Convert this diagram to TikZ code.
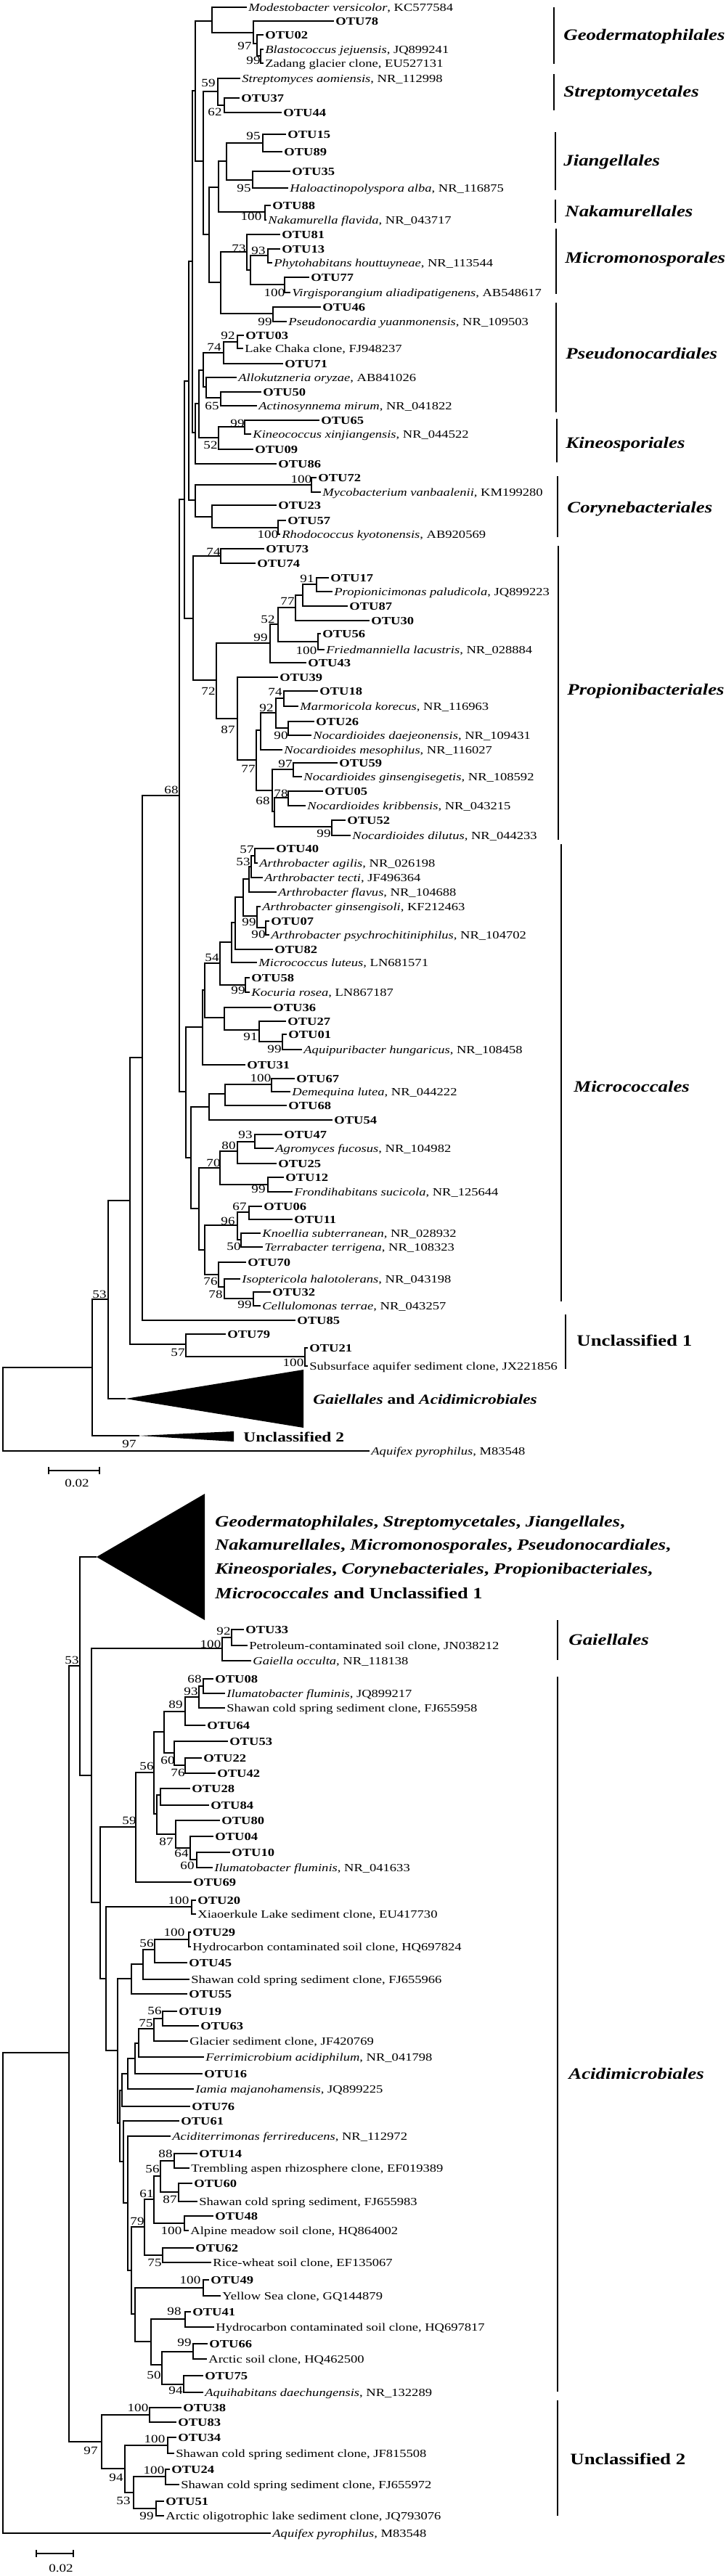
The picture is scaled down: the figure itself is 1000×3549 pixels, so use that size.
\documentclass[tikz,border=0pt]{standalone}
\usepackage{fontspec}
\setmainfont{Liberation Serif}[FakeStretch=1.22]
\newcommand\mkotu[4]{\node[lf] (#1) at (#2,#3) {\textbf{OTU#4}};}
\newcommand\mkleaf[4]{\node[lf] (#1) at (#2,#3) {#4};}
\newcommand\mknd[3]{\coordinate (#1) at (#2,#3);}
\newcommand\mked[2]{\foreach \cc in {#2}{\draw[br] (#1) |- (\cc);}}
\newcommand\mkbv[3]{\node[bsv] at (#1,#2) {#3};}
\begin{document}
\begin{tikzpicture}[x=0.5pt,y=-0.5pt,
  br/.style={line width=0.65pt},
  lf/.style={anchor=west,xshift=-1pt,inner xsep=1pt,inner ysep=0pt,text height=5pt,text depth=0pt,font=\fontsize{7.6}{8}\selectfont},
  bsv/.style={inner sep=0pt,font=\fontsize{7.8}{8}\selectfont},
  ordline/.style={line width=0.7pt},
  ordlab/.style={anchor=west,inner sep=0pt,font=\fontsize{11}{12}\selectfont\bfseries\itshape},
  unclab/.style={anchor=west,inner sep=0pt,font=\fontsize{11}{12}\selectfont\bfseries},
  tlab/.style={anchor=west,inner sep=0pt,font=\fontsize{9.6}{10}\selectfont\bfseries},
  biglab/.style={anchor=west,inner sep=0pt,font=\fontsize{10.8}{12}\selectfont\bfseries}]
\fill[white] (0,0) rectangle (1000,3549);
\useasboundingbox (0,0) rectangle (1000,3549);
% ================= TOP TREE: leaves =================
\mkleaf{m1}{342}{10}{\textit{Modestobacter versicolor}, KC577584}
\mkotu{o78}{462}{29}{78}
\mkotu{o02}{365}{48}{02}
\mkleaf{blj}{365}{68}{\textit{Blastococcus jejuensis}, JQ899241}
\mkleaf{zad}{365}{87}{Zadang glacier clone, EU527131}
\mkleaf{str}{333}{108}{\textit{Streptomyces aomiensis}, NR\_112998}
\mkotu{o37}{332}{135}{37}
\mkotu{o44}{390}{155}{44}
\mkotu{o15}{396}{185}{15}
\mkotu{o89}{391}{209}{89}
\mkotu{o35}{402}{236}{35}
\mkleaf{hal}{399}{259}{\textit{Haloactinopolyspora alba}, NR\_116875}
\mkotu{o88}{375}{283}{88}
\mkleaf{nak}{369}{303}{\textit{Nakamurella flavida}, NR\_043717}
\mkotu{o81}{388}{323}{81}
\mkotu{o13}{388}{343}{13}
\mkleaf{phy}{377}{362}{\textit{Phytohabitans houttuyneae}, NR\_113544}
\mkotu{o77}{428}{382}{77}
\mkleaf{vir}{402}{403}{\textit{Virgisporangium aliadipatigenens}, AB548617}
\mkotu{o46}{444}{423}{46}
\mkleaf{pse}{397}{443}{\textit{Pseudonocardia yuanmonensis}, NR\_109503}
\mkotu{o03}{338}{462}{03}
\mkleaf{lch}{337}{480}{Lake Chaka clone, FJ948237}
\mkotu{o71}{392}{501}{71}
\mkleaf{all}{328}{520}{\textit{Allokutzneria oryzae}, AB841026}
\mkotu{o50}{362}{540}{50}
\mkleaf{act}{356}{559}{\textit{Actinosynnema mirum}, NR\_041822}
\mkotu{o65}{442}{579}{65}
\mkleaf{kin}{348}{598}{\textit{Kineococcus xinjiangensis}, NR\_044522}
\mkotu{o09}{351}{619}{09}
\mkotu{o86}{383}{639}{86}
\mkotu{o72}{438}{658}{72}
\mkleaf{myc}{444}{678}{\textit{Mycobacterium vanbaalenii}, KM199280}
\mkotu{o23}{383}{696}{23}
\mkotu{o57}{396}{717}{57}
\mkleaf{rho}{388}{736}{\textit{Rhodococcus kyotonensis}, AB920569}
\mkotu{o73}{366}{756}{73}
\mkotu{o74}{354}{776}{74}
\mkotu{o17}{455}{796}{17}
\mkleaf{ppa}{460}{815}{\textit{Propionicimonas paludicola}, JQ899223}
\mkotu{o87}{481}{835}{87}
\mkotu{o30}{511}{855}{30}
\mkotu{o56}{444}{873}{56}
\mkleaf{fri}{449}{895}{\textit{Friedmanniella lacustris}, NR\_028884}
\mkotu{o43}{424}{913}{43}
\mkotu{o39}{385}{933}{39}
\mkotu{o18}{440}{952}{18}
\mkleaf{mar}{413}{973}{\textit{Marmoricola korecus}, NR\_116963}
\mkotu{o26}{435}{994}{26}
\mkleaf{nda}{431}{1013}{\textit{Nocardioides daejeonensis}, NR\_109431}
\mkleaf{nme}{391}{1033}{\textit{Nocardioides mesophilus}, NR\_116027}
\mkotu{o59}{467}{1051}{59}
\mkleaf{ngi}{418}{1070}{\textit{Nocardioides ginsengisegetis}, NR\_108592}
\mkotu{o05}{447}{1090}{05}
\mkleaf{nkr}{423}{1110}{\textit{Nocardioides kribbensis}, NR\_043215}
\mkotu{o52}{478}{1130}{52}
\mkleaf{ndi}{485}{1151}{\textit{Nocardioides dilutus}, NR\_044233}
\mkotu{o40}{380}{1169}{40}
\mkleaf{aag}{357}{1189}{\textit{Arthrobacter agilis}, NR\_026198}
\mkleaf{ate}{364}{1209}{\textit{Arthrobacter tecti}, JF496364}
\mkleaf{afl}{383}{1229}{\textit{Arthrobacter flavus}, NR\_104688}
\mkleaf{agi}{361}{1249}{\textit{Arthrobacter ginsengisoli}, KF212463}
\mkotu{o07}{373}{1269}{07}
\mkleaf{aps}{373}{1288}{\textit{Arthrobacter psychrochitiniphilus}, NR\_104702}
\mkotu{o82}{378}{1308}{82}
\mkleaf{mlu}{356}{1326}{\textit{Micrococcus luteus}, LN681571}
\mkotu{o58}{346}{1347}{58}
\mkleaf{kro}{346}{1367}{\textit{Kocuria rosea}, LN867187}
\mkotu{o36}{376}{1388}{36}
\mkotu{o27}{396}{1407}{27}
\mkotu{o01}{397}{1425}{01}
\mkleaf{aqh}{418}{1446}{\textit{Aquipuribacter hungaricus}, NR\_108458}
\mkotu{o31}{340}{1467}{31}
\mkotu{o67}{408}{1486}{67}
\mkleaf{dem}{402}{1504}{\textit{Demequina lutea}, NR\_044222}
\mkotu{o68}{397}{1523}{68}
\mkotu{o54}{460}{1543}{54}
\mkotu{o47}{391}{1563}{47}
\mkleaf{agr}{379}{1582}{\textit{Agromyces fucosus}, NR\_104982}
\mkotu{o25}{383}{1603}{25}
\mkotu{o12}{393}{1622}{12}
\mkleaf{fro}{405}{1642}{\textit{Frondihabitans sucicola}, NR\_125644}
\mkotu{o06}{363}{1662}{06}
\mkotu{o11}{405}{1680}{11}
\mkleaf{kno}{361}{1699}{\textit{Knoellia subterranean}, NR\_028932}
\mkleaf{ter}{364}{1718}{\textit{Terrabacter terrigena}, NR\_108323}
\mkotu{o70}{341}{1739}{70}
\mkleaf{iso}{333}{1762}{\textit{Isoptericola halotolerans}, NR\_043198}
\mkotu{o32}{375}{1780}{32}
\mkleaf{cel}{361}{1799}{\textit{Cellulomonas terrae}, NR\_043257}
\mkotu{o85}{409}{1819}{85}
\mkotu{o79}{313}{1838}{79}
\mkotu{o21}{426}{1857}{21}
\mkleaf{sub}{426}{1882}{Subsurface aquifer sediment clone, JX221856}
\mkleaf{aqf}{511}{1999}{\textit{Aquifex pyrophilus}, M83548}
% ================= TOP TREE: internal nodes =================
\mknd{G1}{292}{29}\mknd{G2}{349}{45}\mknd{n97}{354}{60}\mknd{n99}{359}{77}
\mknd{N269}{269}{125}\mknd{N280}{280}{222}\mknd{S}{300}{126}\mknd{N62}{309}{145}
\mknd{N288}{288}{323}\mknd{N301}{301}{258}\mknd{J}{312}{222}\mknd{N95a}{362}{197}
\mknd{N95b}{348}{248}\mknd{Nak}{365}{292}\mknd{N304}{304}{389}\mknd{N340}{340}{347}
\mknd{N345}{345}{372}\mknd{N369}{369}{352}\mknd{N392}{392}{392}\mknd{N376}{376}{432}
\mknd{N265}{265}{360}\mknd{N269a}{269}{596}\mknd{N274}{274}{556}\mknd{N280b}{280}{510}
\mknd{N308}{308}{486}\mknd{N327}{327}{471}\mknd{N284}{284}{533}\mknd{N304b}{304}{548}
\mknd{N301k}{301}{603}\mknd{N337}{337}{588}\mknd{N260}{260}{525}\mknd{N269c}{269}{689}
\mknd{N429}{429}{668}\mknd{N292}{292}{712}\mknd{N383c}{383}{727}\mknd{N254}{254}{688}
\mknd{N266}{266}{852}\mknd{N304p}{304}{766}\mknd{N298}{298}{937}\mknd{N372}{372}{886}
\mknd{N383p}{383}{860}\mknd{N407}{407}{837}\mknd{N417}{417}{820}\mknd{N436}{436}{805}
\mknd{N438}{438}{884}\mknd{N327p}{327}{990}\mknd{N353}{353}{1047}\mknd{N359}{359}{1006}
\mknd{N380}{380}{982}\mknd{N391}{391}{962}\mknd{N397}{397}{1003}\mknd{N375}{375}{1089}
\mknd{N404}{404}{1060}\mknd{N378}{378}{1118}\mknd{N397b}{397}{1099}\mknd{N457}{457}{1139}
\mknd{F}{247}{1096}\mknd{M256}{256}{1504}\mknd{M280}{279}{1415}\mknd{M282}{282}{1364}
\mknd{M303}{303}{1327}\mknd{M338}{338}{1357}\mknd{M319}{319}{1298}\mknd{M324}{324}{1271}
\mknd{M335}{335}{1236}\mknd{M343}{343}{1211}\mknd{M346}{346}{1194}\mknd{M351}{351}{1179}
\mknd{M354}{354}{1262}\mknd{M366}{366}{1278}\mknd{M309}{309}{1402}\mknd{M357}{357}{1419}
\mknd{M389}{389}{1435}\mknd{M263}{263}{1595}\mknd{M288}{288}{1525}\mknd{M310}{310}{1507}
\mknd{M374}{374}{1494}\mknd{M274}{274}{1665}\mknd{M303b}{303}{1609}\mknd{M327}{327}{1586}
\mknd{M351b}{351}{1573}\mknd{M369}{369}{1632}\mknd{M282b}{282}{1722}\mknd{M327k}{327}{1688}
\mknd{M343k}{343}{1670}\mknd{M332}{332}{1708}\mknd{M301}{301}{1756}\mknd{M309b}{309}{1773}
\mknd{M349}{349}{1789}\mknd{D}{196}{1457}\mknd{C}{179}{1654}\mknd{E}{256}{1852}
\mknd{N420}{420}{1869}\mknd{B}{149}{1790}\mknd{A}{127}{1884}\mknd{R}{4}{1940}
\mknd{t1a}{173}{1927}\mknd{t1b}{418}{1887}\mknd{t1c}{418}{1967}
\mknd{t2a}{192}{1978}\mknd{t2b}{322}{1972}\mknd{t2c}{322}{1986}
% ================= TOP TREE: edges =================
\mked{G1}{m1,G2}\mked{G2}{o78,n97}\mked{n97}{o02,n99}\mked{n99}{blj,zad}
\mked{N269}{G1,N280}\mked{N280}{S,N288}\mked{S}{str,N62}\mked{N62}{o37,o44}
\mked{N288}{N301,N304}\mked{N301}{J,Nak}\mked{J}{N95a,N95b}\mked{N95a}{o15,o89}
\mked{N95b}{o35,hal}\mked{Nak}{o88,nak}\mked{N304}{N340,N376}\mked{N340}{o81,N345}
\mked{N345}{N369,N392}\mked{N369}{o13,phy}\mked{N392}{o77,vir}\mked{N376}{o46,pse}
\mked{N265}{N269,N269a}\mked{N269a}{N274,o86}\mked{N274}{N280b,N301k}\mked{N280b}{N308,N284}
\mked{N308}{N327,o71}\mked{N327}{o03,lch}\mked{N284}{all,N304b}\mked{N304b}{o50,act}
\mked{N301k}{N337,o09}\mked{N337}{o65,kin}\mked{N260}{N265,N269c}\mked{N269c}{N429,N292}
\mked{N429}{o72,myc}\mked{N292}{o23,N383c}\mked{N383c}{o57,rho}\mked{N254}{N260,N266}
\mked{N266}{N304p,N298}\mked{N304p}{o73,o74}\mked{N298}{N372,N327p}\mked{N372}{N383p,o43}
\mked{N383p}{N407,N438}\mked{N407}{N417,o30}\mked{N417}{N436,o87}\mked{N436}{o17,ppa}
\mked{N438}{o56,fri}\mked{N327p}{o39,N353}\mked{N353}{N359,N375}\mked{N359}{N380,nme}
\mked{N380}{N391,N397}\mked{N391}{o18,mar}\mked{N397}{o26,nda}\mked{N375}{N404,N378}
\mked{N404}{o59,ngi}\mked{N378}{N397b,N457}\mked{N397b}{o05,nkr}\mked{N457}{o52,ndi}
\mked{F}{N254,M256}\mked{M256}{M280,M263}\mked{M280}{M282,o31}\mked{M282}{M303,M309}
\mked{M303}{M319,M338}\mked{M338}{o58,kro}\mked{M319}{M324,mlu}\mked{M324}{M335,o82}
\mked{M335}{M343,M354}\mked{M343}{M346,afl}\mked{M346}{M351,ate}\mked{M351}{o40,aag}
\mked{M354}{agi,M366}\mked{M366}{o07,aps}\mked{M309}{o36,M357}\mked{M357}{o27,M389}
\mked{M389}{o01,aqh}\mked{M263}{M288,M274}\mked{M288}{M310,o54}\mked{M310}{M374,o68}
\mked{M374}{o67,dem}\mked{M274}{M303b,M282b}\mked{M303b}{M327,M369}\mked{M327}{M351b,o25}
\mked{M351b}{o47,agr}\mked{M369}{o12,fro}\mked{M282b}{M327k,M301}\mked{M327k}{M343k,M332}
\mked{M343k}{o06,o11}\mked{M332}{kno,ter}\mked{M301}{o70,M309b}\mked{M309b}{iso,M349}
\mked{M349}{o32,cel}\mked{D}{F,o85}\mked{C}{D,E}\mked{E}{o79,N420}\mked{N420}{o21,sub}
\mked{B}{C,t1a}\mked{A}{B,t2a}\mked{R}{A,aqf}
\fill (t1a) -- (t1b) -- (t1c) -- cycle;
\fill (t2a) -- (t2b) -- (t2c) -- cycle;
\node[tlab] (tl1) at (431,1928) {\textit{Gaiellales} and \textit{Acidimicrobiales}};
\node[tlab] (tl2) at (335,1980) {Unclassified 2};
% bootstrap values top
\mkbv{337}{63}{97}\mkbv{349}{83}{99}\mkbv{287}{114}{59}\mkbv{296}{154}{62}
\mkbv{349}{187}{95}\mkbv{336}{259}{95}\mkbv{346}{298}{100}\mkbv{329}{342}{73}
\mkbv{356}{345}{93}\mkbv{378}{403}{100}\mkbv{365}{443}{99}\mkbv{314}{462}{92}
\mkbv{295}{478}{74}\mkbv{292}{559}{65}\mkbv{327}{583}{99}\mkbv{290}{613}{52}
\mkbv{415}{660}{100}\mkbv{369}{736}{100}\mkbv{294}{760}{74}\mkbv{423}{797}{91}
\mkbv{396}{828}{77}\mkbv{369}{853}{52}\mkbv{359}{878}{99}\mkbv{422}{896}{100}
\mkbv{287}{952}{72}\mkbv{379}{953}{74}\mkbv{367}{975}{92}\mkbv{314}{1005}{87}
\mkbv{387}{1013}{90}\mkbv{393}{1052}{97}\mkbv{342}{1059}{77}\mkbv{236}{1088}{68}
\mkbv{387}{1093}{78}\mkbv{362}{1103}{68}\mkbv{446}{1148}{99}\mkbv{340}{1170}{57}
\mkbv{335}{1187}{53}\mkbv{343}{1270}{99}\mkbv{356}{1287}{90}\mkbv{292}{1319}{54}
\mkbv{328}{1364}{99}\mkbv{345}{1428}{91}\mkbv{378}{1445}{99}\mkbv{359}{1485}{100}
\mkbv{338}{1563}{93}\mkbv{315}{1578}{80}\mkbv{294}{1602}{70}\mkbv{356}{1638}{99}
\mkbv{330}{1662}{67}\mkbv{314}{1682}{96}\mkbv{322}{1717}{50}\mkbv{290}{1765}{76}
\mkbv{297}{1783}{78}\mkbv{337}{1797}{99}\mkbv{137}{1783}{53}\mkbv{245}{1863}{57}
\mkbv{404}{1877}{100}\mkbv{178}{1989}{97}
% order brackets top
\draw[ordline] (763,10) -- (763,88);   \node[ordlab] at (776,50) {Geodermatophilales};
\draw[ordline] (763,102) -- (763,152); \node[ordlab] at (776,128) {Streptomycetales};
\draw[ordline] (765,182) -- (765,262); \node[ordlab] at (776,223) {Jiangellales};
\draw[ordline] (765,275) -- (765,307); \node[ordlab] at (778,291) {Nakamurellales};
\draw[ordline] (766,315) -- (766,405); \node[ordlab] at (778,357) {Micromonosporales};
\draw[ordline] (766,417) -- (766,568); \node[ordlab] at (779,487) {Pseudonocardiales};
\draw[ordline] (767,577) -- (767,637); \node[ordlab] at (779,612) {Kineosporiales};
\draw[ordline] (768,656) -- (768,740); \node[ordlab] at (781,701) {Corynebacteriales};
\draw[ordline] (769,752) -- (769,1157); \node[ordlab] at (781,952) {Propionibacteriales};
\draw[ordline] (773,1163) -- (773,1793); \node[ordlab] at (790,1497) {Micrococcales};
\draw[ordline] (779,1811) -- (779,1886); \node[unclab] at (794,1847) {Unclassified 1};
% scale bar top
\draw[br] (67,2026) -- (137,2026); \draw[br] (67,2021) -- (67,2031); \draw[br] (137,2021) -- (137,2031);
\node[bsv] at (106,2043) {0.02};
% ================= LOWER TREE: leaves =================
\mkotu{o33}{338}{2245}{33}
\mkleaf{pet}{343}{2267}{Petroleum-contaminated soil clone, JN038212}
\mkleaf{gai}{348}{2288}{\textit{Gaiella occulta}, NR\_118138}
\mkotu{o08}{296}{2313}{08}
\mkleaf{ilj}{312}{2333}{\textit{Ilumatobacter fluminis}, JQ899217}
\mkleaf{s58}{312}{2353}{Shawan cold spring sediment clone, FJ655958}
\mkotu{o64}{285}{2377}{64}
\mkotu{o53}{316}{2399}{53}
\mkotu{o22}{280}{2422}{22}
\mkotu{o42}{299}{2443}{42}
\mkotu{o28}{264}{2464}{28}
\mkotu{o84}{290}{2487}{84}
\mkotu{o80}{305}{2508}{80}
\mkotu{o04}{296}{2530}{04}
\mkotu{o10}{319}{2552}{10}
\mkleaf{iln}{295}{2573}{\textit{Ilumatobacter fluminis}, NR\_041633}
\mkotu{o69}{266}{2593}{69}
\mkotu{o20}{272}{2618}{20}
\mkleaf{xia}{272}{2637}{Xiaoerkule Lake sediment clone, EU417730}
\mkotu{o29}{265}{2662}{29}
\mkleaf{hy4}{265}{2682}{Hydrocarbon contaminated soil clone, HQ697824}
\mkotu{o45}{260}{2704}{45}
\mkleaf{s66}{263}{2727}{Shawan cold spring sediment clone, FJ655966}
\mkotu{o55}{260}{2747}{55}
\mkotu{o19}{246}{2771}{19}
\mkotu{o63}{276}{2791}{63}
\mkleaf{gla}{261}{2812}{Glacier sediment clone, JF420769}
\mkleaf{fer}{283}{2834}{\textit{Ferrimicrobium acidiphilum}, NR\_041798}
\mkotu{o16}{281}{2857}{16}
\mkleaf{iam}{269}{2878}{\textit{Iamia majanohamensis}, JQ899225}
\mkotu{o76}{264}{2902}{76}
\mkotu{o61}{249}{2922}{61}
\mkleaf{acd}{237}{2943}{\textit{Aciditerrimonas ferrireducens}, NR\_112972}
\mkotu{o14}{274}{2967}{14}
\mkleaf{tre}{263}{2987}{Trembling aspen rhizosphere clone, EF019389}
\mkotu{o60}{267}{3008}{60}
\mkleaf{s83}{274}{3033}{Shawan cold spring sediment, FJ655983}
\mkotu{o48}{296}{3053}{48}
\mkleaf{alp}{262}{3073}{Alpine meadow soil clone, HQ864002}
\mkotu{o62}{269}{3097}{62}
\mkleaf{ric}{293}{3117}{Rice-wheat soil clone, EF135067}
\mkotu{o49}{290}{3141}{49}
\mkleaf{yel}{306}{3163}{Yellow Sea clone, GQ144879}
\mkotu{o41}{265}{3185}{41}
\mkleaf{hy7}{297}{3206}{Hydrocarbon contaminated soil clone, HQ697817}
\mkotu{o66}{288}{3229}{66}
\mkleaf{arc}{287}{3250}{Arctic soil clone, HQ462500}
\mkotu{o75}{282}{3273}{75}
\mkleaf{aqd}{282}{3296}{\textit{Aquihabitans daechungensis}, NR\_132289}
\mkotu{o38}{252}{3317}{38}
\mkotu{o83}{245}{3337}{83}
\mkotu{o34}{245}{3358}{34}
\mkleaf{s08}{242}{3380}{Shawan cold spring sediment clone, JF815508}
\mkotu{o24}{236}{3402}{24}
\mkleaf{s72}{249}{3423}{Shawan cold spring sediment clone, FJ655972}
\mkotu{o51}{228}{3446}{51}
\mkleaf{aol}{228}{3466}{Arctic oligotrophic lake sediment clone, JQ793076}
\mkleaf{aqf2}{375}{3490}{\textit{Aquifex pyrophilus}, M83548}
% ================= LOWER TREE: internal nodes =================
\mknd{L110}{110}{2295}\mknd{L126}{126}{2446}\mknd{L306}{306}{2271}\mknd{L319}{319}{2256}
\mknd{L138}{138}{2621}\mknd{L187}{187}{2517}\mknd{L212}{212}{2442}\mknd{L226}{226}{2386}
\mknd{L255}{255}{2358}\mknd{L274}{274}{2338}\mknd{L280}{280}{2323}\mknd{L240}{240}{2415}
\mknd{L255b}{255}{2432}\mknd{L216}{216}{2499}\mknd{L221}{221}{2473}\mknd{L242}{242}{2527}
\mknd{L262}{262}{2546}\mknd{L271}{271}{2562}\mknd{L146}{146}{2726}\mknd{L264}{264}{2627}
\mknd{L162}{162}{2825}\mknd{L181}{181}{2726}\mknd{L197}{197}{2706}\mknd{L213}{213}{2686}
\mknd{L260}{260}{2672}\mknd{L165}{165}{2925}\mknd{L168}{168}{2880}\mknd{L176}{176}{2857}
\mknd{L186}{186}{2836}\mknd{L191}{191}{2815}\mknd{L212b}{212}{2795}\mknd{L224}{224}{2781}
\mknd{L170}{170}{2978}\mknd{L176b}{176}{3035}\mknd{L181b}{181}{3128}\mknd{L199}{199}{3068}
\mknd{L212c}{212}{3030}\mknd{L221c}{221}{2998}\mknd{L240c}{240}{2977}\mknd{L246}{246}{3020}
\mknd{L254c}{254}{3063}\mknd{L224b}{224}{3107}\mknd{L186b}{186}{3188}\mknd{L280d}{280}{3152}
\mknd{L208}{208}{3226}\mknd{L255c}{255}{3195}\mknd{L223}{223}{3258}\mknd{L266z}{266}{3240}
\mknd{L253}{253}{3285}\mknd{L95}{95}{2828}\mknd{L140}{140}{3364}\mknd{L206}{206}{3327}
\mknd{L172}{172}{3401}\mknd{L231}{231}{3369}\mknd{L184}{184}{3434}\mknd{L228}{228}{3412}
\mknd{L215}{215}{3456}\mknd{R2}{4}{3160}
\mknd{t3a}{133}{2145}\mknd{t3b}{282}{2058}\mknd{t3c}{282}{2232}
% ================= LOWER TREE: edges =================
\mked{L110}{t3a,L126}\mked{L126}{L306,L138}\mked{L306}{L319,gai}\mked{L319}{o33,pet}
\mked{L138}{L187,L146}\mked{L187}{L212,o69}\mked{L212}{L226,L216}\mked{L226}{L255,L240}
\mked{L255}{L274,o64}\mked{L274}{L280,s58}\mked{L280}{o08,ilj}\mked{L240}{o53,L255b}
\mked{L255b}{o22,o42}\mked{L216}{L221,L242}\mked{L221}{o28,o84}\mked{L242}{o80,L262}
\mked{L262}{o04,L271}\mked{L271}{o10,iln}\mked{L146}{L264,L162}\mked{L264}{o20,xia}
\mked{L162}{L181,L165}\mked{L181}{L197,o55}\mked{L197}{L213,s66}\mked{L213}{L260,o45}
\mked{L260}{o29,hy4}\mked{L165}{L168,L170}\mked{L168}{L176,o76}\mked{L176}{L186,iam}
\mked{L186}{L191,o16}\mked{L191}{L212b,fer}\mked{L212b}{L224,gla}\mked{L224}{o19,o63}
\mked{L170}{o61,L176b}\mked{L176b}{acd,L181b}\mked{L181b}{L199,L186b}\mked{L199}{L212c,L224b}
\mked{L212c}{L221c,L254c}\mked{L221c}{L240c,L246}\mked{L240c}{o14,tre}\mked{L246}{o60,s83}
\mked{L254c}{o48,alp}\mked{L224b}{o62,ric}\mked{L186b}{L280d,L208}\mked{L280d}{o49,yel}
\mked{L208}{L255c,L223}\mked{L255c}{o41,hy7}\mked{L223}{L266z,L253}\mked{L266z}{o66,arc}
\mked{L253}{o75,aqd}\mked{L95}{L110,L140}\mked{L140}{L206,L172}\mked{L206}{o38,o83}
\mked{L172}{L231,L184}\mked{L231}{o34,s08}\mked{L184}{L228,L215}\mked{L228}{o24,s72}
\mked{L215}{o51,aol}\mked{R2}{L95,aqf2}
\fill (t3a) -- (t3b) -- (t3c) -- cycle;
\node[biglab] (bg1) at (296,2098) {\textit{Geodermatophilales}, \textit{Streptomycetales}, \textit{Jiangellales},};
\node[biglab] (bg2) at (296,2130) {\textit{Nakamurellales}, \textit{Micromonosporales}, \textit{Pseudonocardiales},};
\node[biglab] (bg3) at (296,2163) {\textit{Kineosporiales}, \textit{Corynebacteriales}, \textit{Propionibacteriales},};
\node[biglab] (bg4) at (296,2195) {\textit{Micrococcales} and Unclassified 1};
% bootstrap values lower
\mkbv{99}{2287}{53}\mkbv{290}{2265}{100}\mkbv{308}{2247}{92}\mkbv{268}{2313}{68}
\mkbv{263}{2330}{93}\mkbv{242}{2348}{89}\mkbv{231}{2425}{60}\mkbv{245}{2442}{76}
\mkbv{202}{2433}{56}\mkbv{178}{2508}{59}\mkbv{229}{2537}{87}\mkbv{250}{2553}{64}
\mkbv{258}{2570}{60}\mkbv{246}{2618}{100}\mkbv{240}{2662}{100}\mkbv{202}{2677}{56}
\mkbv{213}{2770}{56}\mkbv{201}{2787}{75}\mkbv{228}{2967}{88}\mkbv{210}{2988}{56}
\mkbv{202}{3022}{61}\mkbv{234}{3030}{87}\mkbv{189}{3060}{79}\mkbv{236}{3073}{100}
\mkbv{213}{3117}{75}\mkbv{262}{3141}{100}\mkbv{240}{3184}{98}\mkbv{254}{3227}{99}
\mkbv{212}{3272}{50}\mkbv{242}{3293}{94}\mkbv{190}{3317}{100}\mkbv{213}{3360}{100}
\mkbv{125}{3376}{97}\mkbv{212}{3403}{100}\mkbv{160}{3413}{94}\mkbv{170}{3445}{53}
\mkbv{202}{3466}{99}
% order brackets lower
\draw[ordline] (768,2232) -- (768,2287); \node[ordlab] at (783,2259) {Gaiellales};
\draw[ordline] (768,2310) -- (768,3295); \node[ordlab] at (783,2857) {Acidimicrobiales};
\draw[ordline] (768,3307) -- (768,3466); \node[unclab] at (785,3388) {Unclassified 2};
% scale bar lower
\draw[br] (50,3518) -- (101,3518); \draw[br] (50,3513) -- (50,3523); \draw[br] (101,3513) -- (101,3523);
\node[bsv] at (84,3538) {0.02};
\end{tikzpicture}
\end{document}
